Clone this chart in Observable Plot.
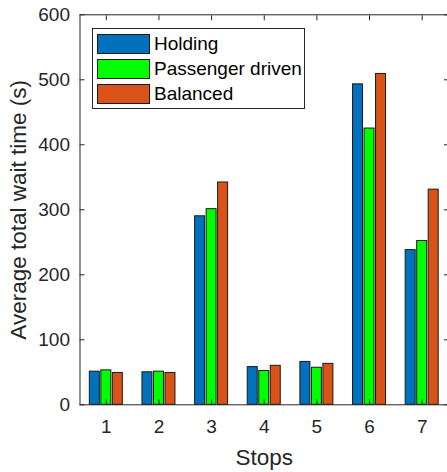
<!DOCTYPE html>
<html>
<head>
<meta charset="utf-8">
<script src="https://cdn.jsdelivr.net/npm/d3@7"></script>
<script src="https://cdn.jsdelivr.net/npm/@observablehq/plot@0.6"></script>
<style>
  html, body { margin: 0; padding: 0; background: #fff; overflow: hidden; }
  #wrap { position: relative; width: 447px; height: 472px; font-family: "Liberation Sans", Arial, Helvetica, sans-serif; }
  #legend { position: absolute; left: 92px; top: 28px; width: 213px; height: 81px; border: 1px solid #262626; background: #fff; box-sizing: border-box; }
  .row { position: absolute; left: 4px; height: 20px; display: flex; align-items: center; }
  .sw { width: 53px; height: 20px; border: 1px solid #1a1a1a; box-sizing: border-box; }
  .lab { margin-left: 4px; font-size: 19px; color: #000; white-space: nowrap; line-height: 20px; }
</style>
</head>
<body>
<div id="wrap"></div>
<script>
const stops = [1, 2, 3, 4, 5, 6, 7];
const seriesNames = ["Holding", "Passenger driven", "Balanced"];
const holding = [51, 50, 290, 58, 66, 493, 238];
const passengerDriven = [53, 51, 301, 52, 57, 425, 252];
const balanced = [49, 49, 342, 60, 63, 509, 331];
const colors = ["#0072BD", "#00FF00", "#D95319"];
const yTicks = [0, 100, 200, 300, 400, 500, 600];
const xLabel = "Stops";
const yLabel = "Average total wait time (s)";

const seriesValues = [holding, passengerDriven, balanced];
const data = [];
stops.forEach((s, i) => {
  seriesNames.forEach((name, k) => {
    data.push({stop: s, series: name, k, value: seriesValues[k][i]});
  });
});

// group layout (in band units of one stop)
const barStep = 0.2185;
const barHalf = 0.095;

const chart = Plot.plot({
  width: 447,
  height: 472,
  marginLeft: 79.5,
  marginRight: -1,
  marginTop: 14.3,
  marginBottom: 67.7,
  style: {fontFamily: "'Liberation Sans', Arial, Helvetica, sans-serif", fontSize: "19px", color: "#262626", background: "white", overflow: "visible"},
  x: {domain: [0.5, 7.5], axis: null},
  y: {domain: [0, 600], axis: null},
  color: {domain: seriesNames, range: colors},
  marks: [
    Plot.rectY(data, {
      x1: d => d.stop + (d.k - 1) * barStep - barHalf,
      x2: d => d.stop + (d.k - 1) * barStep + barHalf,
      y: "value",
      fill: "series",
      stroke: "#1a1a1a",
      strokeWidth: 1
    }),
    Plot.frame({stroke: "#262626"}),
    Plot.axisX(stops, {anchor: "bottom", tickSize: 0, tickPadding: 15, label: null, tickFormat: d => String(d), fill: "#262626"}),
    Plot.axisX(stops, {anchor: "bottom", tickSize: -5, fill: "none", label: null, stroke: "#262626"}),
    Plot.axisX(stops, {anchor: "top", tickSize: -5, fill: "none", label: null, stroke: "#262626"}),
    Plot.axisY(yTicks, {anchor: "left", tickSize: 0, tickPadding: 10, label: null, tickFormat: d => String(d), fill: "#262626"}),
    Plot.axisY(yTicks, {anchor: "left", tickSize: -5, fill: "none", label: null, stroke: "#262626"}),
    Plot.axisY(yTicks, {anchor: "right", tickSize: -5, fill: "none", label: null, stroke: "#262626"}),
    Plot.text([yLabel], {frameAnchor: "left", textAnchor: "middle", lineAnchor: "middle", dx: -61, rotate: -90, fontSize: 22.5, fill: "#262626", text: d => d}),
    Plot.text([xLabel], {frameAnchor: "bottom", textAnchor: "middle", lineAnchor: "middle", dy: 53, fontSize: 22.5, fill: "#262626", text: d => d})
  ]
});

const wrap = document.getElementById("wrap");
wrap.appendChild(chart);

const legend = document.createElement("div");
legend.id = "legend";
seriesNames.forEach((name, k) => {
  const row = document.createElement("div");
  row.className = "row";
  row.style.top = (5 + k * 25) + "px";
  const sw = document.createElement("div");
  sw.className = "sw";
  sw.style.background = colors[k];
  const lab = document.createElement("span");
  lab.className = "lab";
  lab.textContent = name;
  row.appendChild(sw);
  row.appendChild(lab);
  legend.appendChild(row);
});
wrap.appendChild(legend);
</script>
</body>
</html>
